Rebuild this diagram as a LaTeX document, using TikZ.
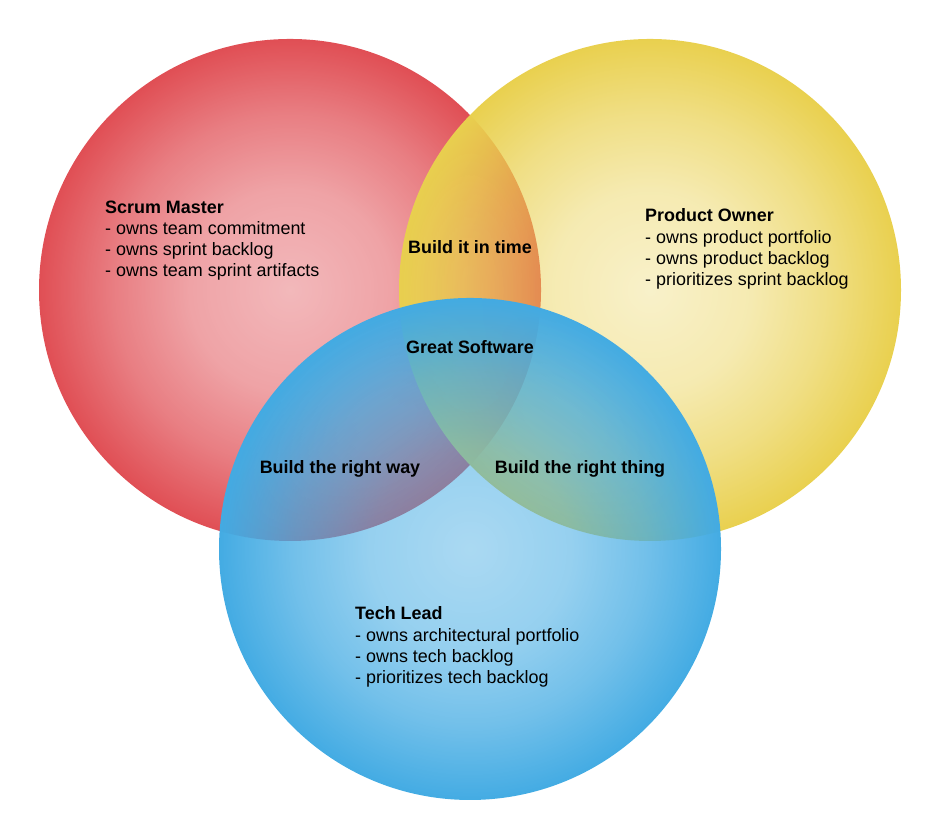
\documentclass[tikz,border=0pt]{standalone}
\usepackage{fontspec}
\setmainfont{Liberation Sans}
\usetikzlibrary{fadings}
% radial opacity ramps: see-through centre, solid rim
\pgfdeclareradialshading{redramp}{\pgfpointorigin}{rgb(0bp)=(0.40,0.40,0.40); rgb(10bp)=(0.52,0.52,0.52); rgb(17.5bp)=(0.73,0.73,0.73); rgb(25bp)=(1,1,1); rgb(50bp)=(1,1,1)}
\pgfdeclarefading{redfade}{\pgfuseshading{redramp}}
\pgfdeclareradialshading{yelramp}{\pgfpointorigin}{rgb(0bp)=(0.30,0.30,0.30); rgb(10bp)=(0.44,0.44,0.44); rgb(17.5bp)=(0.69,0.69,0.69); rgb(25bp)=(1,1,1); rgb(50bp)=(1,1,1)}
\pgfdeclarefading{yelfade}{\pgfuseshading{yelramp}}
\pgfdeclareradialshading{bluramp}{\pgfpointorigin}{rgb(0bp)=(0.45,0.45,0.45); rgb(10bp)=(0.56,0.56,0.56); rgb(17.5bp)=(0.75,0.75,0.75); rgb(25bp)=(1,1,1); rgb(50bp)=(1,1,1)}
\pgfdeclarefading{blufade}{\pgfuseshading{bluramp}}
\begin{document}
\begin{tikzpicture}[x=1bp,y=-1bp,
  role/.style={inner sep=0pt, anchor=west, align=left, font=\fontsize{18}{21.3}\selectfont},
  zone/.style={inner sep=0pt, font=\fontsize{18}{21}\selectfont\bfseries}]
\definecolor{smred}{HTML}{E04E54}
\definecolor{poyel}{HTML}{E9D04E}
\definecolor{tlblu}{HTML}{43ABE3}
\useasboundingbox (0,0) rectangle (940,840);
% three overlapping role circles
\fill[smred, path fading=redfade] (290,290) circle[radius=251];
\fill[poyel, path fading=yelfade] (650,290) circle[radius=251];
\fill[tlblu, path fading=blufade] (470,549) circle[radius=251];
% role descriptions
\node[role] (sm) at (105,240.5) {\textbf{Scrum Master}\\- owns team commitment\\- owns sprint backlog\\- owns team sprint artifacts};
\node[role] (po) at (645,249) {\textbf{Product Owner}\\- owns product portfolio\\- owns product backlog\\- prioritizes sprint backlog};
\node[role] (tl) at (355,647) {\textbf{Tech Lead}\\- owns architectural portfolio\\- owns tech backlog\\- prioritizes tech backlog};
% overlap labels
\node[zone] (time) at (470,247.5) {Build it in time};
\node[zone] (great) at (470,347.5) {Great Software};
\node[zone] (way) at (340,469) {Build the right way};
\node[zone] (thing) at (580,469) {Build the right thing};
\end{tikzpicture}
\end{document}
